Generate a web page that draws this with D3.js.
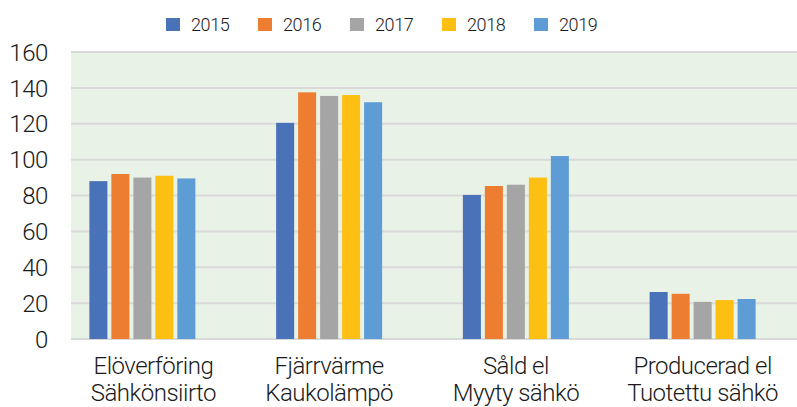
<!DOCTYPE html>
<html>
<head>
<meta charset="utf-8">
<script src="https://cdn.jsdelivr.net/npm/d3@7"></script>
<style>
  body { margin: 0; background: #fff; }
  svg { display: block; font-family: Roboto, "Liberation Sans", Arial, sans-serif; font-weight: 300; }
</style>
</head>
<body>
<svg id="chart" width="797" height="407"></svg>
<script>
const categories = [
    ["Elöverföring", "Sähkönsiirto"],
    ["Fjärrvärme", "Kaukolämpö"],
    ["Såld el", "Myyty sähkö"],
    ["Producerad el", "Tuotettu sähkö"]
];
const years = ["2015", "2016", "2017", "2018", "2019"];
const colors = ["#4a72b8", "#ed7d31", "#a5a5a5", "#fdbf12", "#5e9cd5"];

// one array per category, values by year
const values = [
    [88, 92, 90, 91, 89.5],
    [120.5, 137.5, 135.5, 136, 132],
    [80.3, 85.3, 86, 90, 102],
    [26.2, 25.2, 20.7, 21.7, 22.3]
];
const yTicks = [0, 20, 40, 60, 80, 100, 120, 140, 160];

const svg = d3.select("#chart");
const plot = { left: 71, right: 797, top: 52, bottom: 339 };

const y = d3.scaleLinear().domain([0, 160]).range([plot.bottom, plot.top]);
const x0 = d3.scaleBand().domain(d3.range(categories.length)).range([49, 796]);
const x1 = d3.scaleBand().domain(years).range([0, 106]).paddingInner(0.18);

// background
svg.append("rect")
    .attr("x", plot.left).attr("y", plot.top)
    .attr("width", plot.right - plot.left).attr("height", plot.bottom - plot.top)
    .attr("fill", "#e8f2e6");

// grid
svg.append("g").selectAll("line").data(yTicks).join("line")
    .attr("x1", plot.left).attr("x2", plot.right)
    .attr("y1", d => y(d)).attr("y2", d => y(d))
    .attr("stroke", "#d9d9d9").attr("stroke-width", 2);

// y labels
svg.append("g").selectAll("text").data(yTicks).join("text")
    .attr("x", 48).attr("y", d => y(d))
    .attr("dy", "0.36em")
    .attr("text-anchor", "end")
    .attr("font-size", 24)
    .attr("letter-spacing", -0.4)
    .attr("fill", "#1a1a1a")
    .text(d => d);

// bars
const groups = svg.append("g").selectAll("g").data(values).join("g")
    .attr("transform", (d, i) => `translate(${x0(i) + (x0.bandwidth() - 106) / 2},0)`);

groups.selectAll("rect").data(d => d.map((v, j) => ({ v, year: years[j], c: colors[j] }))).join("rect")
    .attr("x", d => x1(d.year))
    .attr("width", x1.bandwidth())
    .attr("y", d => y(d.v))
    .attr("height", d => y(0) - y(d.v))
    .attr("fill", d => d.c);

// category labels, box clamped to plot area like the original
const labels = svg.append("g").selectAll("text").data(categories).join("text")
    .attr("text-anchor", "middle")
    .attr("font-size", 24)
    .attr("letter-spacing", -0.5)
    .attr("fill", "#1a1a1a")
    .attr("transform", (d, i) => {
        const a = Math.max(x0(i), plot.left),
            b = Math.min(x0(i) + x0.bandwidth(), plot.right);
        return `translate(${(a + b) / 2},374)`;
    });
labels.selectAll("tspan").data(d => d).join("tspan")
    .attr("x", 0)
    .attr("y", (d, i) => i * 27)
    .text(d => d);

// legend
const legend = svg.append("g").selectAll("g").data(years).join("g")
    .attr("transform", (d, i) => `translate(${166 + i * 92},18)`);
legend.append("rect")
    .attr("width", 14).attr("height", 13)
    .attr("fill", (d, i) => colors[i]);
legend.append("text")
    .attr("x", 25).attr("y", 13)
    .attr("font-size", 18)
    .attr("letter-spacing", -0.4)
    .attr("fill", "#1a1a1a")
    .text(d => d);
</script>
</body>
</html>
